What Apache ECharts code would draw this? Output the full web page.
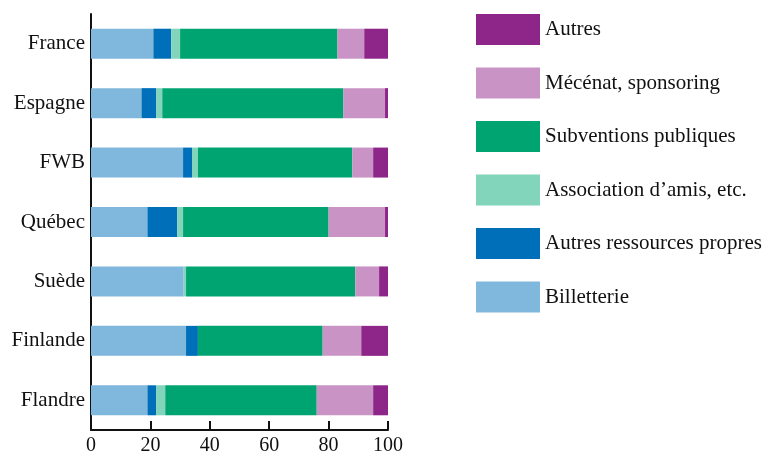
<!DOCTYPE html>
<html>
<head>
<meta charset="utf-8">
<script src="https://cdn.jsdelivr.net/npm/echarts@6/dist/echarts.min.js"></script>
<style>
	html, body { margin: 0; padding: 0; background: #fff; }
	#chart { width: 777px; height: 457px; }
</style>
</head>
<body>
<div id="chart"></div>
<script>
	// pays, de haut en bas
	var pays = ['France', 'Espagne', 'FWB', 'Québec', 'Suède', 'Finlande', 'Flandre'];

	// parts en %
	var billetterie = [21, 17, 31, 19, 31.2, 32, 19];
	var autresRessources = [6, 5, 3, 10, 0, 4, 3];
	var association = [3, 2, 2, 2, 0.8, 0, 3];
	var subventions = [53, 61, 52, 49, 57, 42, 51];
	var mecenat = [9, 14, 7, 19, 8, 13, 19];
	var autres = [8, 1, 5, 1, 3, 9, 5];

	var xTicks = [0, 20, 40, 60, 80, 100];

	var font = '"Liberation Serif", "DejaVu Serif", serif';

	function serie(name, data, color) {
		return {
			name: name,
			type: 'bar',
			stack: 'total',
			barWidth: 30,
			data: data,
			itemStyle: { color: color },
			emphasis: { disabled: true }
		};
	}

	var chart = echarts.init(document.getElementById('chart'));
	chart.setOption({
		animation: false,
		textStyle: { fontFamily: font },
		grid: {
			left: 91,
			right: 389,
			top: 14,
			bottom: 27,
			containLabel: false
		},
		legend: {
			orient: 'vertical',
			left: 476,
			top: 14,
			padding: 0,
			itemWidth: 64,
			itemHeight: 31,
			itemGap: 22.5,
			icon: 'rect',
			selectedMode: false,
			textStyle: { fontSize: 21, color: '#111', fontFamily: font },
			data: ['Autres', 'Mécénat, sponsoring', 'Subventions publiques',
				'Association d’amis, etc.', 'Autres ressources propres', 'Billetterie']
		},
		xAxis: {
			type: 'value',
			min: xTicks[0],
			max: xTicks[xTicks.length - 1],
			interval: 20,
			splitLine: { show: false },
			axisLine: { show: true, lineStyle: { color: '#111', width: 2 } },
			axisTick: { show: true, inside: true, length: 9, lineStyle: { color: '#111', width: 2 } },
			axisLabel: { fontSize: 20, color: '#111', fontFamily: font, margin: 6 }
		},
		yAxis: {
			type: 'category',
			inverse: true,
			data: pays,
			axisLine: { show: true, lineStyle: { color: '#111', width: 2 } },
			axisTick: { show: false },
			axisLabel: { fontSize: 21, color: '#111', fontFamily: font, margin: 6 }
		},
		series: [
			serie('Billetterie', billetterie, '#80b7dc'),
			serie('Autres ressources propres', autresRessources, '#006fb9'),
			serie('Association d’amis, etc.', association, '#82d4bb'),
			serie('Subventions publiques', subventions, '#00a470'),
			serie('Mécénat, sponsoring', mecenat, '#c993c5'),
			serie('Autres', autres, '#8e2689')
		]
	});
</script>
</body>
</html>
